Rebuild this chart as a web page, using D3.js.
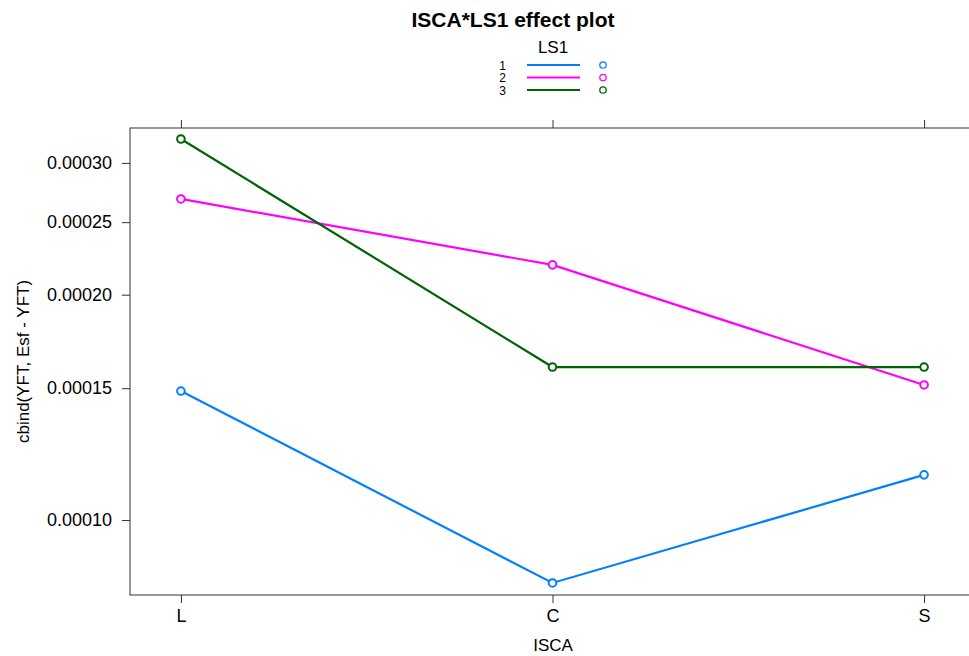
<!doctype html>
<html>
    <head>
        <style>
            body {margin:0; background:#fff;}
            svg {width:969px; height:656px; font-family:"Liberation Sans", Arial, sans-serif;}
            .axis path, .axis line {stroke:#333; fill:none;}
        </style>
        <script src="https://d3js.org/d3.v7.min.js"></script>
    </head>
    <body>
        <script>
            var categories = ["L","C","S"];
            var seriesNames = ["1","2","3"];
            var ls1_1 = [0.0001487, 0.0000824, 0.0001149];
            var ls1_2 = [0.0002685, 0.0002192, 0.0001515];
            var ls1_3 = [0.0003229, 0.0001601, 0.0001601];
            var yTicks = [0.00010, 0.00015, 0.00020, 0.00025, 0.00030];
            var colors = ["#0080ff","#ff00ff","#006400"];

            var series = [ls1_1, ls1_2, ls1_3];

            //plot box
            var boxL=130, boxR=975, boxT=128, boxB=595;

            var svg = d3.select("body").append("svg");

            var x = d3.scalePoint().domain(categories).range([boxL,boxR]).padding(0.137);
            var y = d3.scaleLog().domain([0.0000794,0.000334]).range([boxB,boxT]);

            //frame
            svg.append("rect")
                .attr("x",boxL).attr("y",boxT)
                .attr("width",boxR-boxL).attr("height",boxB-boxT)
                .attr("fill","none").attr("stroke","#333");

            //axes
            var fmt = function(d){return d.toFixed(5)};
            svg.append("g").attr("class","axis")
                .attr("transform","translate("+boxL+",0)")
                .call(d3.axisLeft(y).tickValues(yTicks).tickFormat(fmt).tickSize(8).tickSizeOuter(0).tickPadding(10))
                .call(function(g){g.select(".domain").remove()})
                .selectAll("text").attr("font-size",18).attr("fill","#000").attr("font-family","Liberation Sans");

            svg.append("g").attr("class","axis")
                .attr("transform","translate(0,"+boxB+")")
                .call(d3.axisBottom(x).tickSize(8).tickSizeOuter(0).tickPadding(6))
                .call(function(g){g.select(".domain").remove()})
                .selectAll("text").attr("font-size",18).attr("fill","#000").attr("font-family","Liberation Sans");

            svg.append("g").attr("class","axis")
                .attr("transform","translate(0,"+boxT+")")
                .call(d3.axisTop(x).tickSize(8).tickSizeOuter(0).tickFormat(""))
                .call(function(g){g.select(".domain").remove()});

            //axis titles
            svg.append("text").attr("x",553).attr("y",651)
                .attr("text-anchor","middle").attr("font-size",17).text("ISCA");
            svg.append("text")
                .attr("transform","translate(29,"+((boxT+boxB)/2)+") rotate(-90)")
                .attr("text-anchor","middle").attr("font-size",17).text("cbind(YFT, Esf - YFT)");

            //title
            svg.append("text").attr("x",513).attr("y",27)
                .attr("text-anchor","middle").attr("font-size",21).attr("font-weight","bold")
                .text("ISCA*LS1 effect plot");

            //legend
            svg.append("text").attr("x",553).attr("y",53)
                .attr("text-anchor","middle").attr("font-size",17).text("LS1");
            var leg = svg.append("g").selectAll("g")
                .data(seriesNames).enter().append("g")
                .attr("transform",function(d,i){return "translate(0,"+(65+i*12.5)+")"});
            leg.append("text").attr("x",506).attr("y",4.5)
                .attr("text-anchor","end").attr("font-size",12).text(function(d){return d});
            leg.append("line").attr("x1",527).attr("x2",580)
                .attr("stroke",function(d,i){return colors[i]}).attr("stroke-width",2);
            leg.append("circle").attr("cx",603).attr("r",3.2)
                .attr("fill","none").attr("stroke-width",1.3)
                .attr("stroke",function(d,i){return colors[i]});

            //lines and points
            var line = d3.line()
                .x(function(d,i){return x(categories[i])})
                .y(function(d){return y(d)});

            var grp = svg.append("g").selectAll("g")
                .data(series).enter().append("g");
            grp.append("path")
                .attr("d",function(d){return line(d)})
                .attr("fill","none").attr("stroke-width",2.2)
                .attr("stroke",function(d,i){return colors[i]});
            grp.selectAll("circle")
                .data(function(d,i){return d.map(function(v){return {v:v,c:colors[i]}})})
                .enter().append("circle")
                .attr("cx",function(d,i){return x(categories[i])})
                .attr("cy",function(d){return y(d.v)})
                .attr("r",3.8)
                .attr("fill","#fff").attr("stroke-width",2)
                .attr("stroke",function(d){return d.c});
        </script>
    </body>
</html>
